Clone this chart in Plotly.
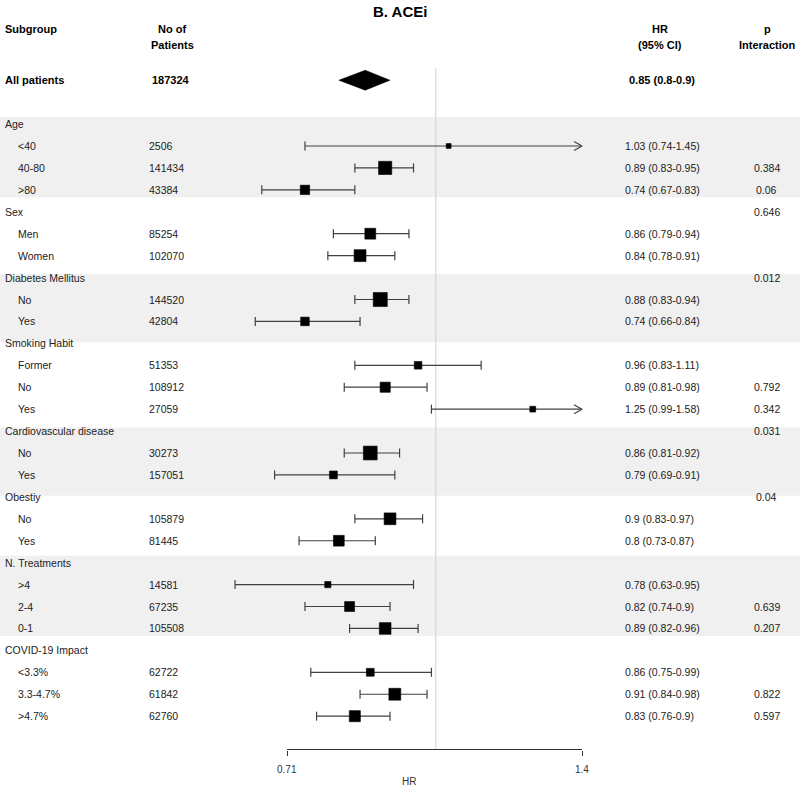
import math
import plotly.graph_objects as go

# ---------------- data ----------------
title = "B. ACEi"
labels = ["All patients",
          "Age", "<40", "40-80", ">80",
          "Sex", "Men", "Women",
          "Diabetes Mellitus", "No", "Yes",
          "Smoking Habit", "Former", "No", "Yes",
          "Cardiovascular disease", "No", "Yes",
          "Obestiy", "No", "Yes",
          "N. Treatments", ">4", "2-4", "0-1",
          "COVID-19 Impact", "<3.3%", "3.3-4.7%", ">4.7%"]
row_kind = ["total",
            "group", "item", "item", "item",
            "group", "item", "item",
            "group", "item", "item",
            "group", "item", "item", "item",
            "group", "item", "item",
            "group", "item", "item",
            "group", "item", "item", "item",
            "group", "item", "item", "item"]
n_patients = [187324,
              None, 2506, 141434, 43384,
              None, 85254, 102070,
              None, 144520, 42804,
              None, 51353, 108912, 27059,
              None, 30273, 157051,
              None, 105879, 81445,
              None, 14581, 67235, 105508,
              None, 62722, 61842, 62760]
hr = [0.85,
      None, 1.03, 0.89, 0.74,
      None, 0.86, 0.84,
      None, 0.88, 0.74,
      None, 0.96, 0.89, 1.25,
      None, 0.86, 0.79,
      None, 0.9, 0.8,
      None, 0.78, 0.82, 0.89,
      None, 0.86, 0.91, 0.83]
ci_low = [0.8,
          None, 0.74, 0.83, 0.67,
          None, 0.79, 0.78,
          None, 0.83, 0.66,
          None, 0.83, 0.81, 0.99,
          None, 0.81, 0.69,
          None, 0.83, 0.73,
          None, 0.63, 0.74, 0.82,
          None, 0.75, 0.84, 0.76]
ci_high = [0.9,
           None, 1.45, 0.95, 0.83,
           None, 0.94, 0.91,
           None, 0.94, 0.84,
           None, 1.11, 0.98, 1.58,
           None, 0.92, 0.91,
           None, 0.97, 0.87,
           None, 0.95, 0.9, 0.96,
           None, 0.99, 0.98, 0.9]
p_interaction = ["",
                 "", "", "0.384", "0.06",
                 "0.646", "", "",
                 "0.012", "", "",
                 "", "", "0.792", "0.342",
                 "0.031", "", "",
                 "0.04", "", "",
                 "", "", "0.639", "0.207",
                 "", "", "0.822", "0.597"]
shaded_groups = ["Age", "Diabetes Mellitus", "Cardiovascular disease", "N. Treatments"]
x_ticks = [0.71, 1.4]
x_tick_text = ["0.71", "1.4"]
ref_value = 1.0
x_label = "HR"

# ---------------- layout constants ----------------
W, H = 800, 787
PLOT_BOTTOM = 750          # pixel of x-axis
ROW0_PX, ROW_H = 80.2, 21.93
FONT = "Liberation Sans, Arial, sans-serif"
TXT = "#222222"


def r(px):
    return (px - ROW0_PX) / ROW_H


def py(px):
    return 1 - px / PLOT_BOTTOM


# x range (log10) so that 0.71 -> 287px and 1.4 -> 582px
ppl = (582 - 287) / (math.log10(1.4) - math.log10(0.71))
xr0 = math.log10(0.71) - 287 / ppl
xr1 = xr0 + W / ppl
x_max = x_ticks[-1]

row_y = [0 if i == 0 else i + 1 for i in range(len(labels))]

fig = go.Figure()

# shaded bands
starts = [i for i, k in enumerate(row_kind) if k == "group"] + [len(labels)]
for gi in range(len(starts) - 1):
    s, e = starts[gi], starts[gi + 1] - 1
    if labels[s] not in shaded_groups:
        continue
    nrows = e - s + 1
    top_off, bot_off = (-0.32, 0.34) if nrows >= 4 else (-0.16, 0.95)
    fig.add_shape(type="rect", xref="paper", yref="y", x0=0, x1=1,
                  y0=row_y[s] + top_off, y1=row_y[e] + bot_off,
                  fillcolor="#f0f0f0", line=dict(width=0), layer="below")

# reference line
fig.add_trace(go.Scatter(x=[ref_value, ref_value], y=[r(68), r(749.5)], mode="lines",
                         line=dict(color="#cfcfcf", width=1), hoverinfo="skip"))
# axis line
fig.add_trace(go.Scatter(x=[x_ticks[0], x_ticks[-1]], y=[r(749.5), r(749.5)], mode="lines",
                         line=dict(color="#333333", width=1), hoverinfo="skip"))

# CI lines, caps, arrows
cap = 4.5 / ROW_H
arr_h = 4.5 / ROW_H
arr_back = 10 ** (-8 / ppl)
cx, cy = [], []
bx, by, bs = [], [], []
for i, k in enumerate(row_kind):
    if k != "item":
        continue
    y = row_y[i]
    lo, hi = ci_low[i], ci_high[i]
    hi_c = min(hi, x_max)
    cx += [lo, hi_c, None]
    cy += [y, y, None]
    cx += [lo, lo, None]
    cy += [y - cap, y + cap, None]
    if hi > x_max:
        cx += [x_max * arr_back, x_max, x_max * arr_back, None]
        cy += [y - arr_h, y, y + arr_h, None]
    else:
        cx += [hi, hi, None]
        cy += [y - cap, y + cap, None]
    bx.append(hr[i])
    by.append(y)
    bs.append(2.8 + 1.4 / math.log(hi / lo))

fig.add_trace(go.Scatter(x=cx, y=cy, mode="lines", line=dict(color="#404040", width=1.2),
                         hoverinfo="skip"))
fig.add_trace(go.Scatter(x=bx, y=by, mode="markers",
                         marker=dict(symbol="square", size=bs, color="#000000", opacity=1,
                                     line=dict(width=0.6, color="#000000")),
                         hoverinfo="skip"))

# diamond for overall
dh = 10 / ROW_H
i0 = row_kind.index("total")
fig.add_trace(go.Scatter(x=[ci_low[i0], hr[i0], ci_high[i0], hr[i0], ci_low[i0]],
                         y=[row_y[i0], row_y[i0] - dh, row_y[i0], row_y[i0] + dh, row_y[i0]],
                         mode="lines", fill="toself", fillcolor="black",
                         line=dict(color="black", width=0.5), hoverinfo="skip"))

ann = []


def add_text(text, x, y, xanchor="left", size=10.5, bold=False, color=TXT, xref="paper", yref="y"):
    ann.append(dict(text=f"<b>{text}</b>" if bold else text, x=x, y=y, xref=xref, yref=yref,
                    xanchor=xanchor, yanchor="middle", showarrow=False,
                    font=dict(family=FONT, size=size, color=color)))


# title and headers
add_text(title, 0.5, py(11), "center", 15, True, "black", yref="paper")
add_text("Subgroup", 3 / W, py(29), "left", 11, True, "black", yref="paper")
add_text("No of", 172 / W, py(29), "center", 11, True, "black", yref="paper")
add_text("Patients", 172 / W, py(45), "center", 11, True, "black", yref="paper")
add_text("HR", 660 / W, py(29), "center", 11, True, "black", yref="paper")
add_text("(95% CI)", 660 / W, py(45), "center", 11, True, "black", yref="paper")
add_text("p", 767 / W, py(29), "center", 11, True, "black", yref="paper")
add_text("Interaction", 767 / W, py(45), "center", 11, True, "black", yref="paper")

for i, k in enumerate(row_kind):
    y = row_y[i]
    if k == "total":
        add_text(labels[i], 3 / W, y, bold=True, size=11, color="black")
        add_text(str(n_patients[i]), 150 / W, y, bold=True, size=11, color="black")
        add_text(f"{hr[i]:g} ({ci_low[i]:g}-{ci_high[i]:g})", 627 / W, y, bold=True, size=11,
                 color="black")
    elif k == "group":
        add_text(labels[i], 3 / W, y)
    else:
        add_text(labels[i], 16 / W, y)
        add_text(str(n_patients[i]), 146.5 / W, y)
        add_text(f"{hr[i]:g} ({ci_low[i]:g}-{ci_high[i]:g})", 623 / W, y)
    if p_interaction[i]:
        add_text(p_interaction[i], 766.5 / W, y, "center")

# tick labels and axis label
for tv, tt in zip(x_ticks, x_tick_text):
    add_text(tt, math.log10(tv), py(769), "center", 10, xref="x", yref="paper", color="#333333")
add_text(x_label, 409 / W, py(781.5), "center", 10, yref="paper", color="#333333")

fig.update_layout(
    width=W, height=H,
    margin=dict(l=0, r=0, t=0, b=H - PLOT_BOTTOM, pad=0),
    plot_bgcolor="white", paper_bgcolor="white",
    showlegend=False,
    annotations=ann,
    xaxis=dict(type="log", range=[xr0, xr1], domain=[0, 1], showgrid=False, zeroline=False,
               showline=False, tickvals=x_ticks, ticks="outside", ticklen=5, tickwidth=1,
               tickcolor="#333333", showticklabels=False, fixedrange=True),
    yaxis=dict(range=[r(PLOT_BOTTOM), r(0)], visible=False, showgrid=False, zeroline=False,
               fixedrange=True),
)

fig.write_html("out.html", config={"displayModeBar": False},
               post_script="document.body.style.margin='0px';document.body.style.overflow='hidden';")
